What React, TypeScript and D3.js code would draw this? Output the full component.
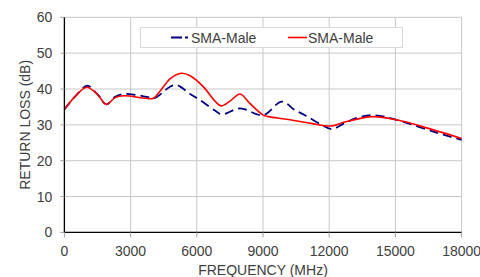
import * as d3 from "d3";

const blueFreq = [0, 500, 1040, 1500, 1900, 2300, 2700, 3300, 3800, 4100, 4410, 4750, 5090, 5700, 6145, 6825, 7130, 7960, 9010, 9850, 10450, 10900, 11660, 12110, 12700, 13300, 14000, 15060, 16720, 18000];
const blueLoss = [34.3, 38.0, 40.9, 38.5, 35.7, 37.8, 38.6, 38.3, 37.7, 37.5, 38.8, 40.5, 41.1, 38.6, 36.9, 34.0, 32.9, 34.6, 32.7, 36.5, 34.1, 32.7, 30.0, 28.8, 30.5, 32.0, 32.7, 31.4, 28.1, 25.8];

const redFreq = [0, 500, 1010, 1500, 1900, 2300, 2700, 3700, 4030, 4410, 4800, 5300, 5700, 6300, 6825, 7100, 7500, 7960, 8400, 9010, 9240, 10150, 11180, 12110, 12700, 14000, 15060, 16720, 18000];
const redLoss = [34.3, 38.0, 40.5, 38.5, 35.7, 37.6, 38.1, 37.4, 37.4, 40.0, 42.9, 44.4, 43.7, 40.6, 36.6, 35.3, 36.6, 38.6, 36.0, 32.7, 32.3, 31.5, 30.4, 29.7, 30.8, 32.3, 31.4, 28.6, 26.2];

const xTicks = [0, 3000, 6000, 9000, 12000, 15000, 18000];
const yTicks = [0, 10, 20, 30, 40, 50, 60];
const seriesNames = ["SMA-Male", "SMA-Male"];

export default function App() {
  const width = 480;
  const height = 277;
  const left = 64.4;
  const right = 461.6;
  const top = 17.3;
  const bottom = 232.4;

  const x = d3.scaleLinear().domain([0, 18000]).range([left, right]);
  const y = d3.scaleLinear().domain([0, 60]).range([bottom, top]);

  const line = d3
    .line<[number, number]>()
    .x((d) => x(d[0]))
    .y((d) => y(d[1]))
    .curve(d3.curveCatmullRom.alpha(0.5));

  const blue = blueFreq.map((f, i) => [f, blueLoss[i]] as [number, number]);
  const red = redFreq.map((f, i) => [f, redLoss[i]] as [number, number]);

  const textColor = "#404040";
  const font = "Liberation Sans, Arial, sans-serif";

  return (
    <svg
      width={width}
      height={height}
      style={{ position: "absolute", left: 0, top: 0, background: "#fff" }}
      fontFamily={font}
    >
      {/* grid */}
      {yTicks.map((t) => (
        <line key={"gy" + t} x1={left} x2={right} y1={y(t)} y2={y(t)} stroke="#c8c8c8" strokeWidth={1} />
      ))}
      {xTicks.map((t) => (
        <line key={"gx" + t} x1={x(t)} x2={x(t)} y1={top} y2={bottom} stroke="#c8c8c8" strokeWidth={1} />
      ))}

      {/* series */}
      <path d={line(blue) ?? ""} fill="none" stroke="#000080" strokeWidth={1.8} strokeDasharray="9,5" />
      <path d={line(red) ?? ""} fill="none" stroke="#ff0000" strokeWidth={1.6} />

      {/* axes */}
      <line x1={left} x2={left} y1={top} y2={bottom} stroke="#000" strokeWidth={1.3} />
      <line x1={left} x2={right} y1={bottom} y2={bottom} stroke="#000" strokeWidth={1.3} />
      {yTicks.map((t) => (
        <g key={"ty" + t}>
          <line x1={left - 4} x2={left} y1={y(t)} y2={y(t)} stroke="#a0a0a0" />
          <text x={left - 12} y={y(t) + 5} textAnchor="end" fontSize={14} fill={textColor}>
            {t}
          </text>
        </g>
      ))}
      {xTicks.map((t) => (
        <g key={"tx" + t}>
          <line x1={x(t)} x2={x(t)} y1={bottom} y2={bottom + 5} stroke="#a0a0a0" />
          <text x={x(t)} y={bottom + 24} textAnchor="middle" fontSize={14} fill={textColor}>
            {t}
          </text>
        </g>
      ))}

      {/* axis titles */}
      <text x={263} y={275} textAnchor="middle" fontSize={14} fill={textColor}>
        FREQUENCY (MHz)
      </text>
      <text
        transform={`translate(30,${(top + bottom) / 2}) rotate(-90)`}
        textAnchor="middle"
        fontSize={14}
        fill={textColor}
      >
        RETURN LOSS (dB)
      </text>

      {/* legend */}
      <rect x={140.5} y={27.5} width={262} height={20} fill="#fff" stroke="#d9d9d9" />
      <line x1={171} x2={188} y1={37.5} y2={37.5} stroke="#000080" strokeWidth={1.8} strokeDasharray="11,3" />
      <text x={191} y={42.5} fontSize={14} fill={textColor}>
        {seriesNames[0]}
      </text>
      <line x1={288} x2={307} y1={37.5} y2={37.5} stroke="#ff0000" strokeWidth={1.6} />
      <text x={308} y={42.5} fontSize={14} fill={textColor}>
        {seriesNames[1]}
      </text>
    </svg>
  );
}
